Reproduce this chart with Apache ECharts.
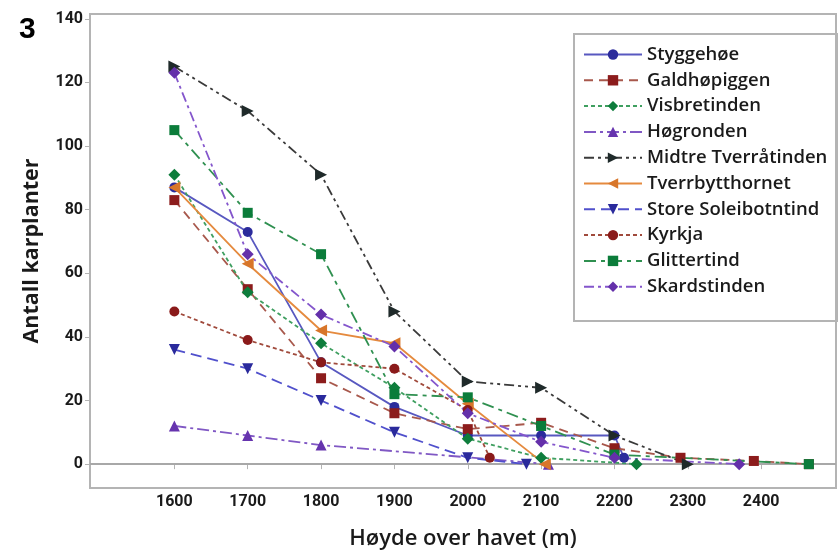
<!DOCTYPE html>
<html>
<head>
<meta charset="utf-8">
<script src="https://cdn.jsdelivr.net/npm/echarts@6/dist/echarts.min.js"></script>
<style>
html,body{margin:0;padding:0;background:#fff;}
#chart{width:839px;height:555px;}
</style>
</head>
<body>
<div id="chart"></div>
<script>
// ---- data (altitude in m, number of vascular plants) ----
const seriesNames = ["Styggehøe","Galdhøpiggen","Visbretinden","Høgronden","Midtre Tverråtinden","Tverrbytthornet","Store Soleibotntind","Kyrkja","Glittertind","Skardstinden"];
const styggehoe = [[1600,87],[1700,73],[1800,32],[1900,18],[2000,9],[2100,9],[2200,9],[2213,2]];
const galdhopiggen = [[1600,83],[1700,55],[1800,27],[1900,16],[2000,11],[2100,13],[2200,5],[2290,2],[2390,1],[2465,0]];
const visbretinden = [[1600,91],[1700,54],[1800,38],[1900,24],[2000,8],[2100,2],[2230,0]];
const hogronden = [[1600,12],[1700,9],[1800,6],[2110,0]];
const midtre = [[1600,125],[1700,111],[1800,91],[1900,48],[2000,26],[2100,24],[2200,9],[2300,0]];
const tverrbytthornet = [[1600,87],[1700,63],[1800,42],[1900,38],[2000,19],[2105,0]];
const soleibotntind = [[1600,36],[1700,30],[1800,20],[1900,10],[2000,2],[2080,0]];
const kyrkja = [[1600,48],[1700,39],[1800,32],[1900,30],[2000,17],[2030,2]];
const glittertind = [[1600,105],[1700,79],[1800,66],[1900,22],[2000,21],[2100,12],[2200,3],[2465,0]];
const skardstinden = [[1600,123],[1700,66],[1800,47],[1900,37],[2000,16],[2100,7],[2200,2],[2370,0]];
const xTicks = [1600,1700,1800,1900,2000,2100,2200,2300,2400];
const yTicks = [0,20,40,60,80,100,120,140];

const allData = [styggehoe,galdhopiggen,visbretinden,hogronden,midtre,tverrbytthornet,soleibotntind,kyrkja,glittertind,skardstinden];

// ---- styles ----
const styles = [
  {line:'#5858c0', mark:'#2b2b9c', type:'solid', symbol:'circle', rot:0, size:10},
  {line:'#a8584c', mark:'#8c1c1c', type:[9,6], symbol:'rect', rot:0, size:10},
  {line:'#3f9f60', mark:'#0e7d3c', type:[4,3], symbol:'diamond', rot:0, size:12},
  {line:'#8058c4', mark:'#6634ae', type:[12,4,3,4], symbol:'triangle', rot:0, size:11},
  {line:'#3a3a3a', mark:'#1f2a2a', type:[10,4,3,4,3,4], symbol:'triangle', rot:-90, size:12},
  {line:'#e58a3e', mark:'#d8762a', type:'solid', symbol:'triangle', rot:90, size:12},
  {line:'#5050cc', mark:'#2a2a9c', type:[11,6], symbol:'triangle', rot:180, size:11},
  {line:'#a04a3c', mark:'#8a1a1a', type:[4,3], symbol:'circle', rot:0, size:10},
  {line:'#2f9050', mark:'#0b7c3a', type:[12,5,4,5], symbol:'rect', rot:0, size:10},
  {line:'#8456cc', mark:'#6430aa', type:[10,4,3,4], symbol:'diamond', rot:0, size:12}
];

const series = seriesNames.map((name, i) => {
  const s = styles[i];
  const obj = {
    name: name,
    type: 'line',
    data: allData[i],
    symbol: s.symbol,
    symbolSize: s.size,
    symbolRotate: s.rot,
    showAllSymbol: true,
    animation: false,
    lineStyle: {color: s.line, width: 1.8, type: s.type},
    itemStyle: {color: s.mark, borderWidth: 0},
    z: 3
  };
  if (i === 0) {
    obj.markLine = {
      silent: true, symbol: 'none', label: {show: false}, animation: false,
      lineStyle: {color: '#a8a8a8', width: 2, type: 'solid'},
      data: [{yAxis: 0}],
      z: 1
    };
  }
  return obj;
});

const tickFont = 'Roboto';

const chart = echarts.init(document.getElementById('chart'), null, {renderer: 'canvas'});
chart.setOption({
  backgroundColor: '#ffffff',
  animation: false,
  grid: {left: 90, right: 3, top: 14, bottom: 67, show: true, borderColor: '#b4b4b4', borderWidth: 2},
  xAxis: {
    type: 'value', min: 1485, max: 2502,
    name: 'Høyde over havet (m)', nameLocation: 'middle', nameGap: 40,
    nameTextStyle: {fontFamily: 'Open Sans', fontSize: 22, fontWeight: 600, color: '#1a1a1a'},
    axisLine: {show: true, lineStyle: {color: '#b4b4b4', width: 2}},
    axisTick: {show: true, customValues: xTicks, length: 5, lineStyle: {color: '#b4b4b4'}},
    axisLabel: {customValues: xTicks, margin: 6, formatter: v => String(v), fontFamily: tickFont, fontSize: 16, fontWeight: 700, color: '#1a1a1a'},
    splitLine: {show: false}
  },
  yAxis: {
    type: 'value', min: -7.5, max: 141.5,
    name: 'Antall karplanter', nameLocation: 'middle', nameGap: 47, nameRotate: 90,
    nameTextStyle: {fontFamily: 'Open Sans', fontSize: 21.5, fontWeight: 700, color: '#1a1a1a'},
    axisLine: {show: true, lineStyle: {color: '#b4b4b4', width: 2}},
    axisTick: {show: true, customValues: yTicks, length: 5, lineStyle: {color: '#b4b4b4'}},
    axisLabel: {customValues: yTicks, margin: 7, formatter: v => String(v), fontFamily: tickFont, fontSize: 16, fontWeight: 700, color: '#1a1a1a'},
    splitLine: {show: false}
  },
  legend: {
    orient: 'vertical', left: 578, top: 40,
    itemWidth: 58, itemHeight: 13, itemGap: 6.8,
    textStyle: {fontFamily: 'Open Sans', fontSize: 18.5, fontWeight: 600, color: '#1a1a1a'},
    data: seriesNames,
    selectedMode: false
  },
  graphic: [
    {type: 'rect', left: 573, top: 33, shape: {x: 0, y: 0, width: 263, height: 287}, style: {fill: 'rgba(0,0,0,0)', stroke: '#b4b4b4', lineWidth: 2}, z: 1, silent: true},
    {type: 'text', left: 19, top: 15, style: {text: '3', font: 'bold 30px "Liberation Sans", Arial', fill: '#000'}}
  ],
  series: series
});
</script>
</body>
</html>
